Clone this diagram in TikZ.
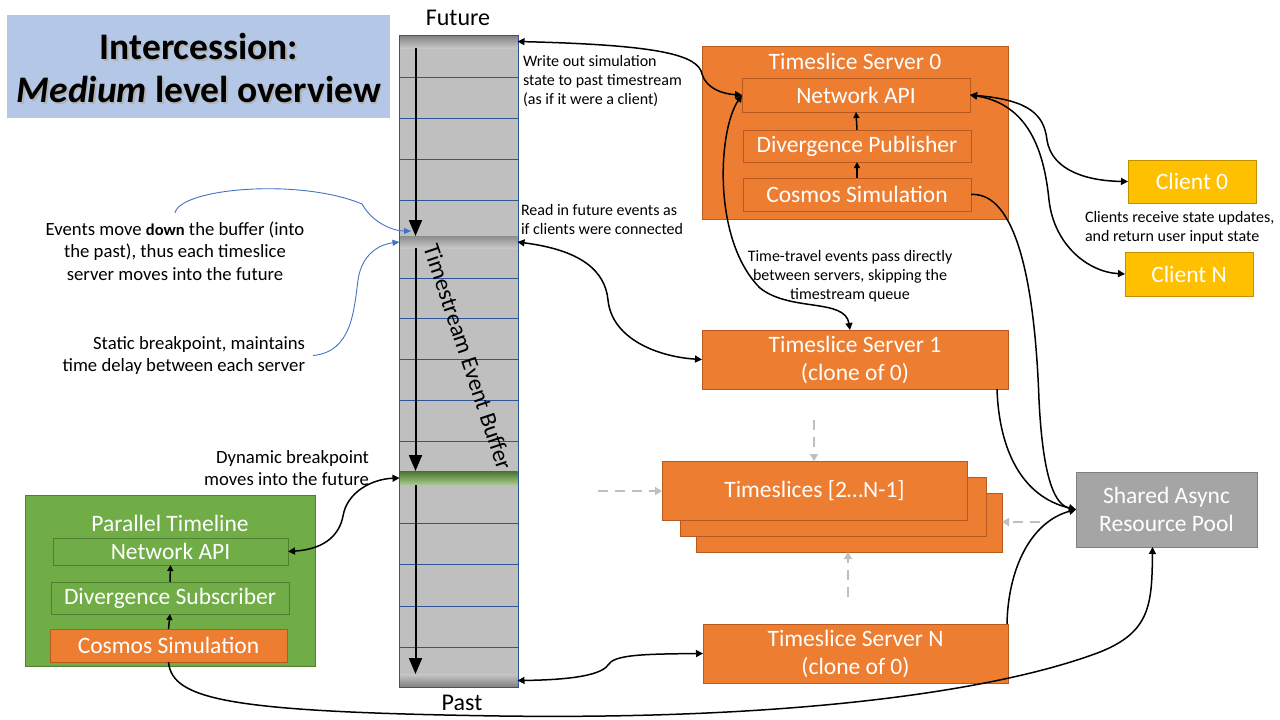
\documentclass[tikz,border=0pt]{standalone}
\usepackage{fontspec}
\setmainfont{Carlito}
\usetikzlibrary{arrows.meta,calc}
\definecolor{orng}{HTML}{ED7D31}
\definecolor{orngD}{HTML}{B8591F}
\definecolor{grn}{HTML}{70AD47}
\definecolor{grnD}{HTML}{507E32}
\definecolor{yel}{HTML}{FFC000}
\definecolor{yelD}{HTML}{BF9000}
\definecolor{poolg}{HTML}{A5A5A5}
\definecolor{poolD}{HTML}{7F7F7F}
\definecolor{titlebg}{HTML}{B4C7E7}
\definecolor{buffill}{HTML}{BFBFBF}
\definecolor{bufblue}{HTML}{2F5597}
\definecolor{annblue}{HTML}{4472C4}
\definecolor{dashg}{HTML}{BFBFBF}
\newcommand\myfBox{\fontsize{23.5}{28}\selectfont}
\newcommand\myfSmall{\fontsize{16}{19}\selectfont}
\newcommand\myfMid{\fontsize{18.7}{22.5}\selectfont}
\newcommand\myfTitle{\fontsize{37.5}{43}\selectfont\bfseries}
\begin{document}
\begin{tikzpicture}[x=1pt,y=-1pt,
  rbox/.style={anchor=north west, inner sep=0pt, outer sep=0pt, line width=0.8pt, text=white, font=\myfBox, align=center},
  obox/.style={rbox, draw=orngD, fill=orng},
  gbox/.style={rbox, draw=grnD, fill=grn},
  ybox/.style={rbox, draw=yelD, fill=yel},
  pbox/.style={rbox, draw=poolD, fill=poolg},
  lbl/.style={inner sep=0pt, outer sep=0pt},
  conn/.style={line width=1.5pt, black, {Triangle[length=7pt,width=7pt]}-{Triangle[length=7pt,width=7pt]}},
  sconn/.style={line width=1.5pt, black, -{Triangle[length=7pt,width=7pt]}},
  tinyarr/.style={line width=1.5pt, black, -{Triangle[length=6pt,width=6pt]}},
  bigarr/.style={line width=2pt, black, -{Triangle[length=16pt,width=13pt]}},
  bluearr/.style={line width=0.9pt, annblue, -{Triangle[length=7pt,width=6pt]}},
  grayarr/.style={line width=2pt, dashg, dash pattern=on 10pt off 7pt, -{Triangle[length=7pt,width=8pt]}},
  bufline/.style={line width=0.8pt, bufblue},
  barnode/.style={anchor=north west, inner sep=0pt, outer sep=0pt, minimum width=118pt}
]
\useasboundingbox (0,0) rectangle (1280,720);

% ---------- title ----------
\node[anchor=north west, fill=titlebg, minimum width=383pt, minimum height=103pt, inner sep=0pt] (titlebox) at (7,15) {};
\node[lbl, align=center, font=\myfTitle, text=black!30] (titleshadow) at (200.5,69.5) {Intercession:\\\textit{Medium} level overview};
\node[lbl, align=center, font=\myfTitle] (title) at (199,68) {Intercession:\\\textit{Medium} level overview};

% ---------- buffer ----------
\node[anchor=north west, fill=buffill, draw=bufblue, line width=0.8pt, minimum width=119pt, minimum height=652pt, inner sep=0pt, outer sep=0pt] (buf) at (399,35) {};
\foreach \yy in {77,118,159,200,278,318,359,400,441,523,564,606,647}{
  \draw[bufline] (399.4,\yy) -- (517.6,\yy);
}
\node[barnode, minimum height=13pt, top color=black!50, bottom color=black!22] (bar0) at (399.5,35) {};
\node[barnode, minimum height=12pt, top color=black!45, bottom color=black!22] (bar1) at (399.5,236) {};
\node[barnode, minimum height=14pt, top color=grnD!90!black, bottom color=grn!60] (bar2) at (399.5,471) {};
\node[barnode, minimum height=13pt, top color=black!22, bottom color=black!50] (bar3) at (399.5,674) {};
\draw[bufblue, line width=0.8pt] (buf.north west) rectangle (buf.south east);

\draw[bigarr] ([xshift=16pt]bar0.south west) -- ([xshift=16pt]bar1.north west);
\draw[bigarr] ([xshift=16pt]bar1.south west) -- ([xshift=16pt]bar2.north west);
\draw[bigarr] ([xshift=16pt]bar2.south west) -- ([xshift=16pt]bar3.north west);

\node[lbl, rotate=-71.5, font=\fontsize{23.5}{27}\selectfont] (buflbl) at (468,357) {Timestream Event Buffer};
\node[lbl, font=\fontsize{24}{28}\selectfont] (future) at (458,18) {Future};
\node[lbl, font=\fontsize{24}{28}\selectfont] (past) at (462,703) {Past};

% ---------- left annotations ----------
\node[lbl, align=center, font=\myfMid] (evtxt) at (175,251) {Events move {\bfseries\fontsize{16.5}{22.5}\selectfont down} the buffer (into\\the past), thus each timeslice\\server moves into the future};
\node[lbl, align=right, font=\myfMid, anchor=east] (sbtxt) at (305,355.5) {Static breakpoint, maintains\\time delay between each server};
\node[lbl, align=right, font=\myfMid, anchor=east] (dyntxt) at (369,468) {Dynamic breakpoint\\moves into the future};

\coordinate (evtip) at (411,231);
\coordinate (evtail) at (175,213);
\draw[bluearr] (evtail) .. controls (180,188) and (300,178) .. (362,204)
  .. controls (372,222) and (392,231) .. (evtip);
\draw[bluearr] ([xshift=8pt]sbtxt.east) .. controls (352,352) and (354,310) .. (358,280)
  .. controls (362,252) and (382,244) .. (bar1.west);

% ---------- parallel timeline ----------
\node[gbox, minimum width=290pt, minimum height=171pt] (ptl) at (25,495) {};
\node[lbl, text=white, font=\myfBox] (ptltitle) at (170,523) {Parallel Timeline};
\node[gbox, minimum width=235pt, minimum height=27pt] (pnet) at (53,538) {Network API};
\node[gbox, minimum width=238pt, minimum height=32pt] (psub) at (51,582) {Divergence Subscriber};
\node[obox, minimum width=237pt, minimum height=33pt] (pcos) at (50,629) {Cosmos Simulation};
\draw[tinyarr] (psub.north) -- (pnet.south);
\draw[tinyarr] (pcos.north) -- (psub.south);

\draw[conn] (pnet.east) .. controls (328,549) and (340,532) .. (343,516)
  .. controls (347,492) and (372,479) .. (bar2.west);

% ---------- timeslice server 0 ----------
\node[obox, minimum width=306pt, minimum height=173pt] (s0) at (702,46) {};
\node[lbl, text=white, font=\myfBox] (s0title) at (855,61) {Timeslice Server 0};
\node[obox, minimum width=228pt, minimum height=34pt] (s0api) at (742,78) {Network API};
\node[obox, minimum width=228pt, minimum height=32pt] (s0pub) at (743,130) {Divergence Publisher};
\node[obox, minimum width=228pt, minimum height=33pt] (s0cos) at (743,178) {Cosmos Simulation};
\draw[tinyarr] (s0pub.north) -- (s0api.south);
\draw[tinyarr] (s0cos.north) -- (s0pub.south);

% ---------- other servers ----------
\node[obox, minimum width=306pt, minimum height=59pt] (s1) at (702,330) {Timeslice Server 1\\(clone of 0)};
\node[obox, minimum width=305pt, minimum height=59pt] (sN) at (703,624) {Timeslice Server N\\(clone of 0)};
\node[obox, minimum width=306pt, minimum height=59pt] (ts3) at (696,493) {};
\node[obox, minimum width=306pt, minimum height=59pt] (ts2) at (680,477) {};
\node[obox, minimum width=305pt, minimum height=59pt] (ts1) at (662,461) {Timeslices [2…N-1]};

% ---------- clients and pool ----------
\node[ybox, minimum width=128pt, minimum height=43pt] (c0) at (1128,160) {Client 0};
\node[ybox, minimum width=128pt, minimum height=44pt] (cN) at (1125,252) {Client N};
\node[pbox, minimum width=181pt, minimum height=75pt] (pool) at (1076,472) {Shared Async\\Resource Pool};

% ---------- small annotations ----------
\node[lbl, align=left, font=\myfSmall, anchor=west] (wotxt) at (523,81) {Write out simulation\\state to past timestream\\(as if it were a client)};
\node[lbl, align=left, font=\myfSmall, anchor=west] (ritxt) at (521,219.5) {Read in future events as\\if clients were connected};
\node[lbl, align=center, font=\myfSmall] (tttxt) at (850,276) {Time-travel events pass directly\\between servers, skipping the\\timestream queue};
\node[lbl, align=left, font=\myfSmall, anchor=west] (cltxt) at (1085,227.5) {Clients receive state updates,\\and return user input state};

% ---------- connectors ----------
\draw[conn] (bar0.east) .. controls (660,45) and (698,55) .. (702,74)
  .. controls (706,88) and (722,94) .. (s0api.west);
\draw[conn] (s0api.west) .. controls (718,130) and (712,240) .. (760,288)
  .. controls (790,312) and (845,298) .. ([xshift=-5pt]s1.north);
\draw[conn] (bar1.east) .. controls (580,250) and (605,270) .. (608,300)
  .. controls (612,340) and (660,357) .. (s1.west);
\draw[conn] (sN.west) .. controls (640,654) and (614,655) .. (608,665)
  .. controls (600,677) and (560,680) .. (bar3.east);

\draw[conn] (s0api.east) .. controls (1030,100) and (1044,115) .. (1047,140)
  .. controls (1052,172) and (1090,181) .. (c0.west);
\draw[conn] (s0api.east) .. controls (1028,104) and (1044,150) .. (1049,200)
  .. controls (1054,245) and (1088,272) .. (cN.west);

\draw[sconn] (s0cos.east) .. controls (1010,192) and (1034,260) .. (1039,400)
  .. controls (1043,480) and (1055,505) .. (pool.west);
\draw[sconn] ([xshift=-11pt]s1.south east) .. controls (999,450) and (1022,497) .. (pool.west);
\draw[sconn] ([xshift=-1pt]sN.north east) .. controls (1008,570) and (1030,522) .. (pool.west);

\draw[sconn] (pcos.south) .. controls (172,700) and (230,712) .. (500,716)
  .. controls (800,720) and (1000,690) .. (1100,652)
  .. controls (1150,632) and (1152,605) .. ([xshift=-14pt]pool.south);

% ---------- gray dashed ----------
\coordinate (gtop) at (814,420);
\coordinate (gleft) at (598,491);
\coordinate (gbot) at (848,597);
\coordinate (gright) at (1040,522);
\draw[grayarr] (gtop) -- (ts1.north -| gtop);
\draw[grayarr] (gleft) -- (ts1.west |- gleft);
\draw[grayarr] (gbot) -- (ts3.south -| gbot);
\draw[grayarr] (gright) -- (ts3.east |- gright);
\end{tikzpicture}
\end{document}
